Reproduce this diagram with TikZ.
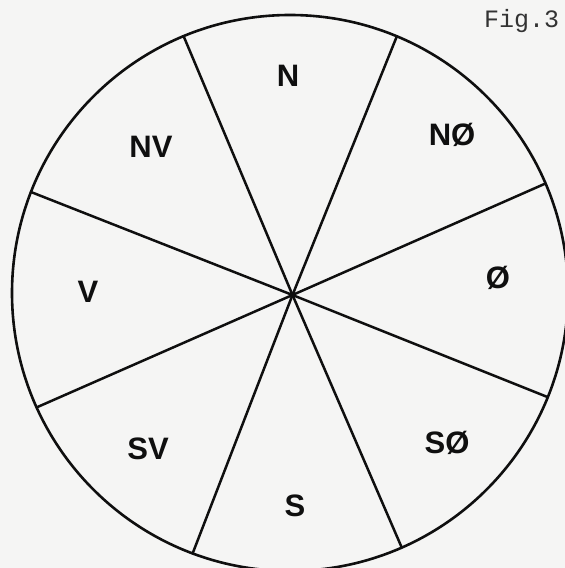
\documentclass[tikz,border=0pt]{standalone}
\usepackage{fontspec}
\usetikzlibrary{calc}
\setmainfont{Liberation Sans}
\newfontfamily\typewriter{Liberation Mono}
\definecolor{paper}{RGB}{245,245,244}
\definecolor{ink}{RGB}{15,15,15}
\tikzset{
  sector/.style={font=\fontsize{31}{31}\selectfont\bfseries, text=ink, inner sep=0pt},
  rim/.style={draw=ink, line width=2.6pt},
  spoke/.style={draw=ink, line width=2.5pt, line cap=round}
}
\begin{document}
\begin{tikzpicture}[x=1pt,y=1pt]
\useasboundingbox (0,0) rectangle (565,568);
\fill[paper] (0,0) rectangle (565,568);
\begin{scope}
\clip (0,0) rectangle (565,568);
\coordinate (c) at (290,275);
\coordinate (hub) at (292.5,273);
\draw[rim] (c) circle[radius=278];
\foreach \a/\n in {112.5/p1, 67.4/p2, 23.2/p3, -22/p4, -66.3/p5, 249.5/p6, 204.3/p7, 158.7/p8}{
  \coordinate (\n) at ($(c)+(\a:278)$);
  \draw[spoke] (hub) -- (\n);
}
\end{scope}
\node[sector] (lN)  at (288,492) {N};
\node[sector] (lNO) at (452,433) {NØ};
\node[sector] (lO)  at (498,290) {Ø};
\node[sector] (lSO) at (447,125) {SØ};
\node[sector] (lS)  at (295,62)  {S};
\node[sector] (lSV) at (148,119) {SV};
\node[sector] (lV)  at (88,276)  {V};
\node[sector] (lNV) at (151,421) {NV};
\node[anchor=base west, inner sep=0pt, font=\typewriter\fontsize{25}{25}\selectfont, text=ink!85] (fig) at (484,540) {Fig.3};
\end{tikzpicture}
\end{document}
